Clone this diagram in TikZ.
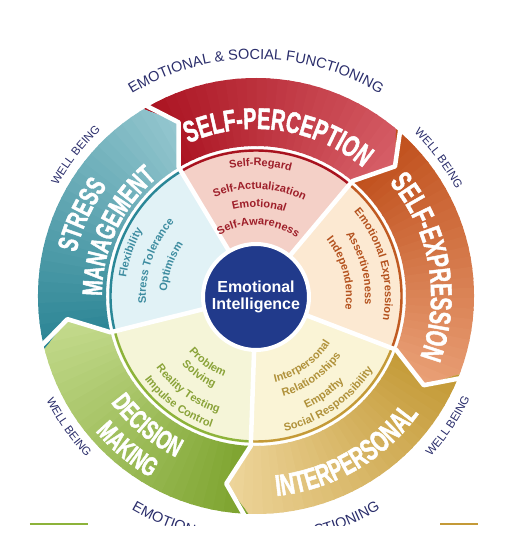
\documentclass[tikz,border=0pt]{standalone}
\usepackage{fontspec}
\setmainfont{Liberation Sans}
\newfontfamily\condfont{Liberation Sans}[FakeStretch=0.66,FakeBold=1.5]
\usetikzlibrary{decorations.text}

\definecolor{navy}{HTML}{2A2D6B}
\definecolor{eiblue}{HTML}{213A8B}
% light sectors
\definecolor{spfill}{HTML}{F4D0C7}
\definecolor{sefill}{HTML}{FCE9D2}
\definecolor{ipfill}{HTML}{FAF4D6}
\definecolor{dmfill}{HTML}{F5F5D8}
\definecolor{smfill}{HTML}{E1F2F6}
% band colours
\definecolor{reddark}{HTML}{AA1220}\definecolor{redlight}{HTML}{D8626A}
\definecolor{ordark}{HTML}{BF4E1A}\definecolor{orlight}{HTML}{EBA37A}
\definecolor{golddark}{HTML}{C39935}\definecolor{goldlight}{HTML}{EFD79E}
\definecolor{grdark}{HTML}{7BA22C}\definecolor{grlight}{HTML}{C6DC90}
\definecolor{tedark}{HTML}{2A8494}\definecolor{telight}{HTML}{98C9D1}
% thin lines
\definecolor{spline}{HTML}{A8121F}
\definecolor{seline}{HTML}{C05A22}
\definecolor{ipline}{HTML}{C49A38}
\definecolor{dmline}{HTML}{8DB33A}
\definecolor{smline}{HTML}{2A8797}
% inner text colours
\definecolor{sptext}{HTML}{9E1F2A}
\definecolor{setext}{HTML}{B4521E}
\definecolor{iptext}{HTML}{B0913A}
\definecolor{dmtext}{HTML}{8AA339}
\definecolor{smtext}{HTML}{3D8CA0}

\newcommand\bigf{\condfont\bfseries\fontsize{30}{30}\selectfont}
\newcommand\midf{\condfont\bfseries\fontsize{28}{28}\selectfont}
\newcommand\dmf{\condfont\bfseries\fontsize{27}{27}\selectfont}
\newcommand\smf{\bfseries\fontsize{11}{11}\selectfont}
\newcommand\outf{\fontsize{14.5}{14.5}\selectfont}
\newcommand\wbf{\fontsize{11.5}{11.5}\selectfont}

% clockwise text (tops outward) and counter-clockwise text (tops inward)
\newcommand\cwt[5][]{\path[#1,decorate,decoration={text along path,text align=center,text={|#4|#5}}]
  ({#3+85}:#2) arc[start angle={#3+85},end angle={#3-85},radius=#2];}
\newcommand\ccwt[5][]{\path[#1,decorate,decoration={text along path,text align=center,text={|#4|#5}}]
  ({#3-85}:#2) arc[start angle={#3-85},end angle={#3+85},radius=#2];}

\newcommand\sector[4]{%
  \fill[#3] (0,0) -- (#1:147) arc[start angle=#1,end angle=#2,radius=147] -- cycle;
  \draw[#4,line width=2.4] (#1:145.5) arc[start angle=#1,end angle=#2,radius=145.5];}

\newcommand\bandfill[4]{%
  \begin{scope}
    \clip (#1:218) arc[start angle=#1,end angle=#2,radius=218] -- ({#2-7}:190) -- (#2:150)
      arc[start angle=#2,end angle=#1,radius=150] -- ({#1-7}:190) -- cycle;
    \foreach \i in {0,...,29}{
      \pgfmathsetmacro\aa{(#1)+2-\i*((#1)-(#2)+12)/30}
      \pgfmathsetmacro\bb{\aa-((#1)-(#2)+12)/30-0.6}
      \pgfmathtruncatemacro\pp{\i*100/29}
      \fill[#4!\pp!#3] (0,0) -- (\aa:226) arc[start angle=\aa,end angle=\bb,radius=226] -- cycle;
    }
  \end{scope}}

\begin{document}
\begin{tikzpicture}[x=1pt,y=1pt]
\useasboundingbox (-256,-263) rectangle (251,296);
\fill[white] (-256,-263) rectangle (251,296);

% inner light sectors with thin coloured rims
\sector{121}{50}{spfill}{spline}
\sector{50}{-21}{sefill}{seline}
\sector{-21}{-92}{ipfill}{ipline}
\sector{268}{194}{dmfill}{dmline}
\sector{194}{121}{smfill}{smline}

% outer bands (arrow shaped, gradient)
\bandfill{121}{50}{reddark}{redlight}
\bandfill{50}{-21}{ordark}{orlight}
\bandfill{-21}{-92}{golddark}{goldlight}
\bandfill{268}{194}{grdark}{grlight}
\bandfill{194}{121}{tedark}{telight}

% white separators
\foreach \t in {121,50,-21,268,194}
  \draw[white,line width=4.5,line join=round] (0,0) -- (\t:150) -- ({\t-7}:190) -- (\t:226);

% centre
\node[circle,fill=eiblue,draw=white,line width=4,minimum size=106pt,inner sep=0pt,
  align=center,text=white,font=\bfseries\fontsize{16}{17.5}\selectfont] (ei) at (0,-1) {Emotional\\Intelligence};

% band labels
\cwt{167}{82}{\color{white}\bigf}{SELF-PERCEPTION}
\cwt{175}{10}{\color{white}\bigf}{SELF-EXPRESSION}
\ccwt{201}{-60}{\color{white}\bigf}{INTERPERSONAL}
\ccwt{180}{230}{\color{white}\dmf}{DECISION}
\ccwt{210}{230}{\color{white}\dmf}{MAKING}
\cwt{185}{155}{\color{white}\midf}{STRESS}
\cwt{154}{155}{\color{white}\midf}{MANAGEMENT}

% inner texts
\cwt{130}{88}{\color{sptext}\smf}{Self-Regard}
\cwt{107}{88}{\color{sptext}\smf}{Self-Actualization}
\cwt{89}{88}{\color{sptext}\smf}{Emotional}
\cwt{71}{88}{\color{sptext}\smf}{Self-Awareness}

\cwt{129}{15}{\color{setext}\smf}{Emotional Expression}
\cwt{109}{15}{\color{setext}\smf}{Assertiveness}
\cwt{90}{15}{\color{setext}\smf}{Independence}

\ccwt{88}{-55}{\color{iptext}\smf}{Interpersonal}
\ccwt{104}{-55}{\color{iptext}\smf}{Relationships}
\ccwt{123}{-55}{\color{iptext}\smf}{Empathy}
\ccwt{138}{-55}{\color{iptext}\smf}{Social Responsibility}

\ccwt{87}{234}{\color{dmtext}\smf}{Problem}
\ccwt{101}{234}{\color{dmtext}\smf}{Solving}
\ccwt{123}{234}{\color{dmtext}\smf}{Reality Testing}
\ccwt{139}{234}{\color{dmtext}\smf}{Impulse Control}

\cwt{131}{161}{\color{smtext}\smf}{Flexibility}
\cwt{110}{161}{\color{smtext}\smf}{Stress Tolerance}
\cwt{89}{161}{\color{smtext}\smf}{Optimism}

% outer navy texts
\cwt{237}{90}{\color{navy}\outf}{EMOTIONAL {\&} SOCIAL FUNCTIONING}
\ccwt{247}{270}{\color{navy}\outf}{EMOTIONAL {\&} SOCIAL FUNCTIONING}
\cwt{227}{37}{\color{navy}\wbf}{WELL BEING}
\cwt{227}{142}{\color{navy}\wbf}{WELL BEING}
\ccwt{237}{-34}{\color{navy}\wbf}{WELL BEING}
\ccwt{234}{215}{\color{navy}\wbf}{WELL BEING}

% bottom mask and rule stubs
\fill[white] (-256,-230) rectangle (251,-263);
\draw[dmline,line width=2] (-226,-228) -- (-168,-228);
\draw[ipline,line width=2] (184,-228) -- (222,-228);
\end{tikzpicture}
\end{document}
